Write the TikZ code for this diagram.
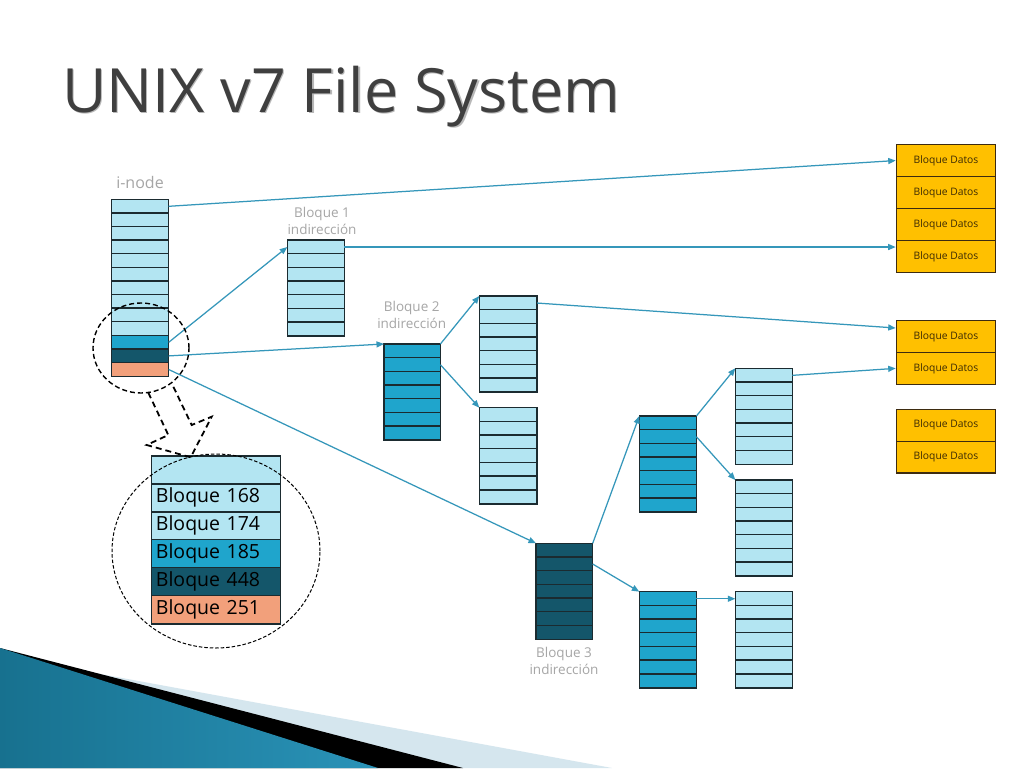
\documentclass[tikz,border=0pt]{standalone}
\usepackage{fontspec}
\setmainfont{Open Sans}
\usetikzlibrary{arrows.meta,calc}
\definecolor{lb}{HTML}{B3E5F2}
\definecolor{mb}{HTML}{1FA5CC}
\definecolor{db}{HTML}{14566A}
\definecolor{org}{HTML}{F2A07B}
\definecolor{gold}{HTML}{FFC000}
\definecolor{goldedge}{HTML}{3D2B10}
\definecolor{goldtext}{HTML}{3B2A05}
\definecolor{edge}{HTML}{1B2B30}
\definecolor{arr}{HTML}{3597BA}
\definecolor{lbl}{HTML}{A6A6A6}
\definecolor{ttl}{HTML}{3F3F3F}
\definecolor{ttlshadow}{HTML}{B8B8B8}
\definecolor{band}{HTML}{D5E6EE}
\definecolor{tealL}{HTML}{17718F}
\definecolor{tealM}{HTML}{46ADD2}
\definecolor{tealR}{HTML}{2A93B8}
\tikzset{
  cell/.style={inner sep=0pt, anchor=north west},
  rule/.style={draw=edge, line width=1.5pt},
  dbox/.style={draw=goldedge, fill=gold, line width=1.3pt, inner sep=0pt,
    minimum width=99.3pt, minimum height=31.8pt, anchor=north west,
    text=goldtext, font=\fontsize{10.3}{12}\selectfont},
  bigcell/.style={inner xsep=4pt, inner ysep=0pt,
    text width=120.3pt, align=left, minimum height=27.9pt, anchor=north west,
    font=\fontsize{19.5}{22}\selectfont, text=black},
  conn/.style={draw=arr, line width=1.25pt, -{Triangle[length=7.5pt,width=6pt]}},
  graylabel/.style={text=lbl, align=center, inner sep=0pt,
    font=\fontsize{13.5}{16.5}\selectfont},
  zoomring/.style={draw=black, line width=1.4pt, dash pattern=on 5pt off 3pt},
  bigring/.style={draw=black, line width=1pt, dash pattern=on 3.5pt off 2pt},
  callout/.style={draw=black, line width=1.8pt, dash pattern=on 6pt off 4pt, line join=miter}
}
% column of n cells: name, x, ytop, width, fill, n
\newcommand{\mkcol}[6]{%
  \foreach \i in {1,...,#6}{
    \node[cell, fill=#5, minimum width=#4pt, minimum height=13.68pt] (#1-\i) at (#2,{#3+(\i-1)*13.68}) {};
  }
  \draw[rule] (#1-1.north west) rectangle (#1-#6.south east);
  \foreach \i in {2,...,#6}{\draw[rule] (#1-\i.north west) -- (#1-\i.north east);}
}
\begin{document}
\begin{tikzpicture}[x=1pt,y=-1pt]
\useasboundingbox (0,0) rectangle (1024,768);
\fill[white] (0,0) rectangle (1024,768);
% bottom-left decoration
\fill[band] (0,648) -- (95,673) -- (612,768) -- (0,768) -- cycle;
\fill[black] (0,648) -- (463,768) -- (0,768) -- cycle;
\shade[left color=tealL, middle color=tealM, right color=tealR] (0,648) -- (378,768) -- (0,768) -- cycle;
% title
\node[anchor=base west, inner sep=0pt, text=ttlshadow, font=\fontsize{61}{62}\selectfont] at (63.2,113.2) {UNIX v7 File System};
\node[anchor=base west, inner sep=0pt, text=ttl, font=\fontsize{61}{62}\selectfont] (title) at (62,112) {UNIX v7 File System};
% i-node
\foreach \i/\c in {1/lb,2/lb,3/lb,4/lb,5/lb,6/lb,7/lb,8/lb,9/lb,10/lb,11/mb,12/db,13/org}{
  \node[cell, fill=\c, minimum width=56.6pt, minimum height=13.6pt] (inode-\i) at (111.7,{199.3+(\i-1)*13.6}) {};
}
\draw[rule] (inode-1.north west) rectangle (inode-13.south east);
\foreach \i in {2,...,13}{\draw[rule] (inode-\i.north west) -- (inode-\i.north east);}
\node[graylabel, font=\fontsize{16}{18}\selectfont] (inodelbl) at (140,182) {i-node};
% indirection columns
\mkcol{b1}{287.3}{240}{56.7}{lb}{7}
\mkcol{b2}{384}{344}{56}{mb}{7}
\mkcol{u1}{479.3}{296}{57.4}{lb}{7}
\mkcol{u2}{479.3}{407.7}{57.4}{lb}{7}
\mkcol{b3}{536}{543.3}{56.3}{db}{7}
\mkcol{m1}{639.3}{416}{56.7}{mb}{7}
\mkcol{m2}{639.3}{591.7}{56.7}{mb}{7}
\mkcol{r1}{735.3}{368.3}{56.7}{lb}{7}
\mkcol{r2}{735.3}{480}{56.7}{lb}{7}
\mkcol{r3}{735.3}{591.7}{56.7}{lb}{7}
\node[graylabel] (b1lbl) at (322,221) {Bloque 1\\indirección};
\node[graylabel] (b2lbl) at (411.7,315) {Bloque 2\\indirección};
\node[graylabel] (b3lbl) at (564,661) {Bloque 3\\indirección};
% data blocks
\foreach \n/\y in {d1/144,d2/176,d3/208,d4/240,d5/320,d6/351.8,d7/408.7,d8/440.5}{
  \node[dbox] (\n) at (895.7,\y) {Bloque Datos};
}
% connectors
\draw[conn] (inode-1.east) -- (d1.west);
\draw[conn] (inode-11.east) -- (b1-1.west);
\draw[conn] (inode-12.east) -- (b2-1.north west);
\draw[conn] (inode-13.east) -- (b3-1.north west);
\draw[conn] (b1-1.east) -- (d4.west |- b1-1.east);
\draw[conn] (b2-1.north east) -- (u1-1.north west);
\draw[conn] (b2-2.east) -- (u2-1.north west);
\draw[conn] (u1-1.east) -- ($(d5.north west)+(0,8)$);
\draw[conn] (b3-1.north east) -- (m1-1.north west);
\draw[conn] (b3-2.east) -- (m2-1.north west);
\draw[conn] (m1-1.north east) -- (r1-1.north west);
\draw[conn] (m1-2.east) -- (r2-1.north west);
\draw[conn] (m2-1.east) -- (r3-1.west);
\draw[conn] (r1-1.east) -- (d6.west);
% zoomed table
\foreach \n/\c/\t [count=\k from 0] in {z0/lb/{},z1/lb/{Bloque 168},z2/lb/{Bloque 174},z3/mb/{Bloque 185},z4/db/{Bloque 448},z5/org/{Bloque 251}}{
  \node[bigcell, fill=\c] (\n) at (151.7,{456+\k*27.9}) {\strut\t};
}
\draw[rule] (z0.north west) rectangle (z5.south east);
\foreach \n in {z1,z2,z3,z4,z5}{\draw[rule] (\n.north west) -- (\n.north east);}
% rings and callout arrow
\draw[zoomring] (141,348) ellipse [x radius=48pt, y radius=45pt];
\draw[bigring] (216,551) ellipse [x radius=104pt, y radius=97pt];
\draw[callout] (148.3,392.7) -- (168.3,435) -- (146.7,445) -- (190.7,457.3) -- (211.7,416.7) -- (191.7,425) -- (171.7,383.3);
\end{tikzpicture}
\end{document}
